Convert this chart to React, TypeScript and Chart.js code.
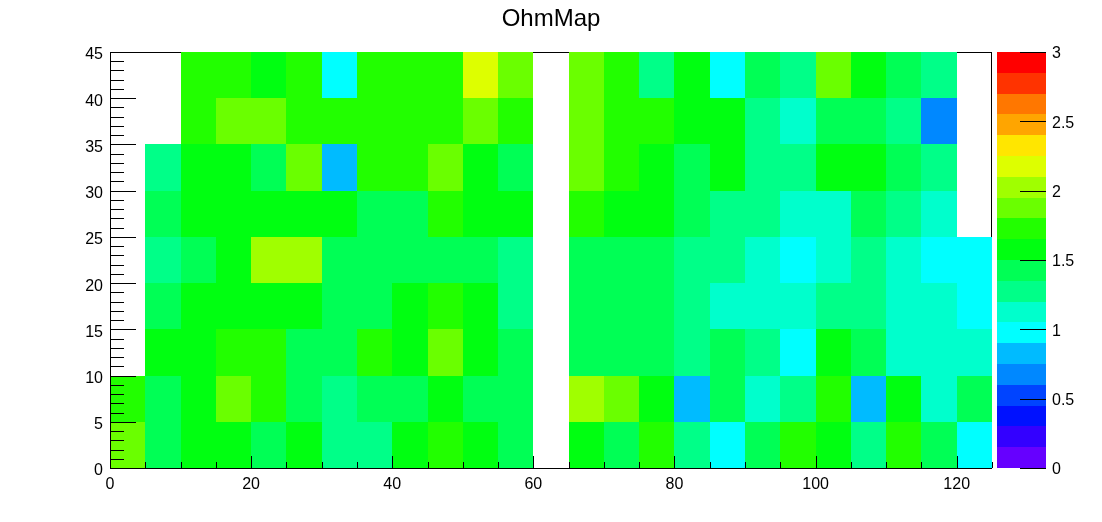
import React, { useEffect, useRef } from "react";
import { Chart, registerables } from "chart.js";

Chart.register(...registerables);

const chartTitle = "OhmMap";
const fontFamily = "'Liberation Sans', Arial, Helvetica, sans-serif";

// axis ranges / binning
const xMin = 0;
const xMax = 125;
const xBin = 5;
const yMin = 0;
const yMax = 45;
const yBin = 5;
const zMin = 0;
const zMax = 3;

const xTickLabels = [0, 20, 40, 60, 80, 100, 120];
const yTickLabels = [0, 5, 10, 15, 20, 25, 30, 35, 40, 45];
const zTickLabels = [0, 0.5, 1, 1.5, 2, 2.5, 3];

// 20-level palette, from zMin (bottom) to zMax (top)
const paletteColors = [
  "#6600ff", "#3300ff", "#0011ff", "#0044ff", "#0088ff",
  "#00bbff", "#00ffff", "#00ffcc", "#00ff88", "#00ff55",
  "#00ff11", "#22ff00", "#6aff00", "#a0ff00", "#ddff00",
  "#ffe600", "#ffa500", "#ff7700", "#ff3300", "#ff0000",
];

// cell values per y-bin (25 x-bins each), null = empty bin
const rowY00 = [1.87, 1.43, 1.57, 1.6, 1.41, 1.55, 1.27, 1.3, 1.59, 1.7, 1.56, 1.44, null, 1.58, 1.42, 1.73, 1.29, 0.97, 1.45, 1.71, 1.57, 1.26, 1.74, 1.4, 0.99];
const rowY05 = [1.73, 1.43, 1.58, 1.86, 1.7, 1.44, 1.29, 1.41, 1.43, 1.56, 1.42, 1.45, null, 2.03, 1.89, 1.59, 0.83, 1.42, 1.13, 1.27, 1.72, 0.81, 1.56, 1.11, 1.43];
const rowY10 = [null, 1.57, 1.6, 1.71, 1.74, 1.42, 1.45, 1.73, 1.56, 1.88, 1.58, 1.43, null, 1.44, 1.41, 1.43, 1.28, 1.42, 1.3, 0.98, 1.59, 1.44, 1.12, 1.14, 1.11];
const rowY15 = [null, 1.44, 1.59, 1.57, 1.56, 1.58, 1.42, 1.43, 1.6, 1.72, 1.57, 1.27, null, 1.43, 1.42, 1.44, 1.28, 1.13, 1.11, 1.12, 1.29, 1.27, 1.13, 1.12, 0.99];
const rowY20 = [null, 1.28, 1.43, 1.59, 2.02, 2.04, 1.42, 1.44, 1.43, 1.41, 1.42, 1.27, null, 1.42, 1.43, 1.44, 1.29, 1.27, 1.12, 0.98, 1.13, 1.28, 1.11, 0.97, 0.98];
const rowY25 = [null, 1.42, 1.58, 1.56, 1.59, 1.57, 1.58, 1.44, 1.43, 1.71, 1.57, 1.59, null, 1.72, 1.58, 1.57, 1.43, 1.28, 1.29, 1.12, 1.13, 1.42, 1.27, 1.11, null];
const rowY30 = [null, 1.28, 1.57, 1.59, 1.42, 1.87, 0.83, 1.72, 1.71, 1.89, 1.58, 1.43, null, 1.88, 1.73, 1.57, 1.42, 1.59, 1.27, 1.28, 1.58, 1.57, 1.43, 1.29, null];
const rowY35 = [null, null, 1.72, 1.87, 1.89, 1.71, 1.73, 1.72, 1.74, 1.7, 1.88, 1.72, null, 1.87, 1.73, 1.71, 1.58, 1.56, 1.28, 1.12, 1.43, 1.42, 1.29, 0.68, null];
const rowY40 = [null, null, 1.71, 1.73, 1.58, 1.72, 0.98, 1.71, 1.73, 1.72, 2.18, 1.88, null, 1.87, 1.72, 1.28, 1.57, 0.97, 1.43, 1.27, 1.89, 1.58, 1.42, 1.28, null];

const rows: (number | null)[][] = [rowY00, rowY05, rowY10, rowY15, rowY20, rowY25, rowY30, rowY35, rowY40];

function colorFor(v: number): string {
  const n = paletteColors.length;
  let k = Math.floor(((v - zMin) / (zMax - zMin)) * n);
  if (k < 0) k = 0;
  if (k > n - 1) k = n - 1;
  return paletteColors[k];
}

const heatmapPlugin = {
  id: "ohmHeatmap",
  beforeDatasetsDraw(chart: any) {
    const { ctx, chartArea: a, scales } = chart;
    const xs = scales.x;
    const ys = scales.y;
    const zs = scales.z;
    ctx.save();
    // frame (under the cells)
    ctx.strokeStyle = "#000";
    ctx.lineWidth = 1;
    ctx.strokeRect(a.left + 0.5, a.top + 0.5, a.right - a.left - 1, a.bottom - a.top);

    // cells
    rows.forEach((row, j) => {
      row.forEach((v, i) => {
        if (v == null) return;
        const x0 = Math.round(xs.getPixelForValue(xMin + i * xBin));
        const x1 = Math.round(xs.getPixelForValue(xMin + (i + 1) * xBin));
        const y0 = Math.round(ys.getPixelForValue(yMin + j * yBin));
        const y1 = Math.round(ys.getPixelForValue(yMin + (j + 1) * yBin));
        ctx.fillStyle = colorFor(v);
        ctx.fillRect(x0, y1, x1 - x0, y0 - y1);
      });
    });

    // axis lines
    ctx.beginPath();
    ctx.moveTo(a.left + 0.5, a.top);
    ctx.lineTo(a.left + 0.5, a.bottom + 0.5);
    ctx.lineTo(a.right, a.bottom + 0.5);
    ctx.stroke();

    // x ticks (inside, pointing up)
    ctx.beginPath();
    for (let v = xMin; v <= xMax + 1e-9; v += xBin) {
      const px = Math.round(xs.getPixelForValue(v)) + 0.5;
      const major = xTickLabels.includes(v);
      const len = major ? 12 : 6;
      ctx.moveTo(px, a.bottom);
      ctx.lineTo(px, a.bottom - len);
    }
    ctx.stroke();

    // y ticks (inside, pointing right)
    ctx.beginPath();
    for (let v = yMin; v <= yMax + 1e-9; v += 1) {
      const py = Math.round(ys.getPixelForValue(v)) + 0.5;
      const major = yTickLabels.includes(v);
      const len = major ? 26 : 14;
      ctx.moveTo(a.left, py);
      ctx.lineTo(a.left + len, py);
    }
    ctx.stroke();

    // palette
    const pL = a.right + 5;
    const pR = a.right + 54;
    const n = paletteColors.length;
    paletteColors.forEach((c, k) => {
      const yb = Math.round(zs.getPixelForValue(zMin + (k * (zMax - zMin)) / n));
      const yt = Math.round(zs.getPixelForValue(zMin + ((k + 1) * (zMax - zMin)) / n));
      ctx.fillStyle = c;
      ctx.fillRect(pL, yt, pR - pL, yb - yt);
    });
    ctx.beginPath();
    zTickLabels.forEach((v) => {
      const py = Math.round(zs.getPixelForValue(v)) + 0.5;
      ctx.moveTo(pR - 26, py);
      ctx.lineTo(pR, py);
    });
    ctx.stroke();
    ctx.restore();
  },
};

const tickFont = { family: fontFamily, size: 16 };

export default function App() {
  const canvasRef = useRef<HTMLCanvasElement | null>(null);

  useEffect(() => {
    const canvas = canvasRef.current;
    if (!canvas) return;
    const points: { x: number; y: number }[] = [];
    rows.forEach((row, j) =>
      row.forEach((v, i) => {
        if (v != null) points.push({ x: xMin + (i + 0.5) * xBin, y: yMin + (j + 0.5) * yBin });
      })
    );
    const chart = new Chart(canvas, {
      type: "scatter",
      data: {
        datasets: [
          {
            label: chartTitle,
            data: points,
            pointRadius: 0,
            pointHoverRadius: 0,
            showLine: false,
          },
        ],
      },
      plugins: [heatmapPlugin],
      options: {
        responsive: false,
        animation: false,
        devicePixelRatio: 1,
        layout: { padding: 0 },
        plugins: {
          legend: { display: false },
          tooltip: { enabled: false },
          title: {
            display: true,
            text: chartTitle,
            color: "#000",
            font: { family: fontFamily, size: 24, weight: "normal", lineHeight: 1.2 },
            padding: { top: 5, bottom: 18.2 },
          },
        },
        scales: {
          x: {
            type: "linear",
            position: "bottom",
            min: xMin,
            max: xMax,
            afterBuildTicks: (s: any) => {
              s.ticks = xTickLabels.map((v) => ({ value: v }));
            },
            afterFit: (s: any) => {
              s.height = 54;
            },
            grid: { display: false, drawTicks: false },
            border: { display: false },
            ticks: {
              color: "#000",
              font: tickFont,
              padding: 7,
              maxRotation: 0,
              autoSkip: false,
              callback: (v: any) => String(v),
            },
          },
          y: {
            type: "linear",
            position: "left",
            min: yMin,
            max: yMax,
            afterBuildTicks: (s: any) => {
              s.ticks = yTickLabels.map((v) => ({ value: v }));
            },
            afterFit: (s: any) => {
              s.width = 110;
            },
            grid: { display: false, drawTicks: false },
            border: { display: false },
            ticks: {
              color: "#000",
              font: tickFont,
              padding: 7,
              labelOffset: 3,
              autoSkip: false,
              callback: (v: any) => String(v),
            },
          },
          z: {
            type: "linear",
            axis: "y",
            position: "right",
            min: zMin,
            max: zMax,
            afterBuildTicks: (s: any) => {
              s.ticks = zTickLabels.map((v) => ({ value: v }));
            },
            afterFit: (s: any) => {
              s.width = 110;
            },
            grid: { display: false, drawTicks: true, tickLength: 54 },
            border: { display: false },
            ticks: {
              color: "#000",
              font: tickFont,
              padding: 6,
              labelOffset: 2,
              autoSkip: false,
              callback: (v: any) => String(v),
            },
          },
        },
      } as any,
    });
    return () => chart.destroy();
  }, []);

  return (
    <div style={{ position: "absolute", left: 0, top: 0, width: 1102, height: 522, background: "#fff" }}>
      <canvas ref={canvasRef} width={1102} height={522} style={{ display: "block" }} />
    </div>
  );
}
